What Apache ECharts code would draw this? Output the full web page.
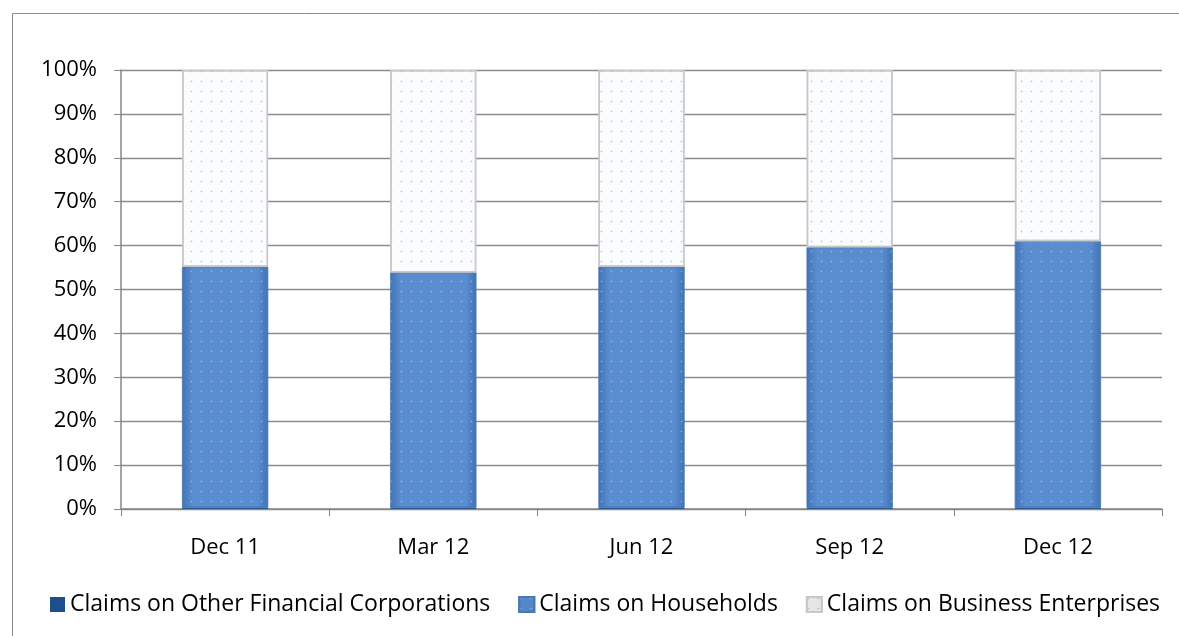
<!DOCTYPE html>
<html><head><meta charset="utf-8">
<script src="https://cdn.jsdelivr.net/npm/echarts@6/dist/echarts.min.js"></script>
<style>html,body{margin:0;padding:0;background:#fff}#c{width:1179px;height:636px}</style>
</head><body><div id="c"></div>
<script>
const categories = ['Dec 11', 'Mar 12', 'Jun 12', 'Sep 12', 'Dec 12'];
const otherFinancial = [0.4, 0.4, 0.4, 0.4, 0.4];
const households = [54.8, 53.5, 54.8, 59.2, 60.6];
const business = [44.8, 46.1, 44.8, 40.4, 39.0];
const seriesNames = ['Claims on Other Financial Corporations', 'Claims on Households', 'Claims on Business Enterprises'];

const FONT = 'Open Sans';
const chart = echarts.init(document.getElementById('c'));
const blueGrad = new echarts.graphic.LinearGradient(0, 0, 1, 0, [
  {offset: 0, color: '#4272b2'}, {offset: 0.12, color: '#5a8dcf'},
  {offset: 0.88, color: '#5a8dcf'}, {offset: 1, color: '#4272b2'}]);
const dots = {symbol: 'rect', symbolSize: 0.5, color: 'rgba(255,255,255,0.35)', dashArrayX: [[3, 7]], dashArrayY: [3, 7]};
const dotsLight = {symbol: 'rect', symbolSize: 0.5, color: 'rgba(120,160,215,0.6)', dashArrayX: [[3, 7]], dashArrayY: [3, 7]};
chart.setOption({
  animation: false,
  graphic: [{type: 'rect', shape: {x: 12.5, y: 13.5, width: 1200, height: 700}, style: {fill: 'none', stroke: '#8a8a8a', lineWidth: 1}, z: -1}],
  grid: {left: 121, right: 17, top: 70, bottom: 127},
  legend: {
    bottom: 15, left: 45, itemWidth: 15, itemHeight: 15, itemGap: 28,
    textStyle: {fontFamily: FONT, fontSize: 23, color: '#000'},
    data: [
      {name: seriesNames[0], icon: 'rect', itemStyle: {color: '#1f4e8c'}},
      {name: seriesNames[1], icon: 'rect', itemStyle: {color: '#5587c8'}},
      {name: seriesNames[2], icon: 'rect', itemStyle: {color: '#e6e6e6'}}
    ]
  },
  xAxis: {
    type: 'category', data: categories,
    axisLine: {lineStyle: {color: '#868686', width: 1.5}},
    axisTick: {show: true, length: 7, lineStyle: {color: '#868686'}},
    axisLabel: {fontFamily: FONT, fontSize: 22, color: '#000', margin: 28}
  },
  yAxis: {
    type: 'value', min: 0, max: 100, interval: 10,
    axisLine: {show: true, lineStyle: {color: '#868686', width: 1.5}},
    axisTick: {show: true, length: 7, lineStyle: {color: '#868686'}},
    splitLine: {lineStyle: {color: '#8c8c8c', width: 1.3}},
    axisLabel: {fontFamily: FONT, fontSize: 22, color: '#000', margin: 24, formatter: '{value}%'}
  },
  series: [
    {name: seriesNames[0], type: 'bar', stack: 's', barWidth: 86, data: otherFinancial,
     itemStyle: {color: '#2a5a9a'}},
    {name: seriesNames[1], type: 'bar', stack: 's', barWidth: 86, data: households,
     itemStyle: {color: blueGrad, decal: dots, borderColor: '#4a78b5', borderWidth: 0.5}},
    {name: seriesNames[2], type: 'bar', stack: 's', barWidth: 86, data: business,
     itemStyle: {color: '#fbfcfe', decal: dotsLight, borderColor: '#c8c8c8', borderWidth: 1.5}}
  ]
});
</script></body></html>
